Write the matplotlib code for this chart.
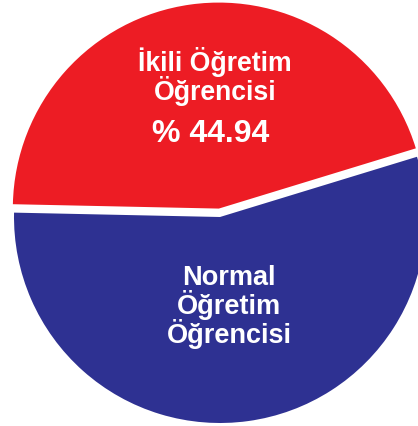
import matplotlib.pyplot as plt

labels = ['İkili Öğretim\nÖğrencisi', 'Normal\nÖğretim\nÖğrencisi']
values = [44.94, 55.06]
colors = ['#ED1C24', '#2E3192']

fig = plt.figure(figsize=(4.18, 4.27), dpi=100)
ax = fig.add_axes([0, 0, 1, 1])

# explode is in data units here since radius is in pixels
ax.pie(values, colors=colors, startangle=17, counterclock=True,
       explode=[8.5, 0], radius=206, center=(220, 209),
       wedgeprops={'linewidth': 0})

ax.set_xlim(0, 418)
ax.set_ylim(0, 427)
ax.set_aspect('equal')
ax.axis('off')

font = dict(family=['Liberation Sans', 'DejaVu Sans'], fontweight='bold', color='white')

for i, line in enumerate(labels[0].split('\n')):
    ax.text(215, 356 - 28.5 * i, line, ha='center', va='baseline', fontsize=19.2, **font)
ax.text(211, 285, '% ' + str(values[0]), ha='center', va='baseline', fontsize=23, **font)
for i, line in enumerate(labels[1].split('\n')):
    ax.text(229, 142 - 29 * i, line, ha='center', va='baseline', fontsize=19.5, **font)

fig.savefig('out.png', dpi=100)
